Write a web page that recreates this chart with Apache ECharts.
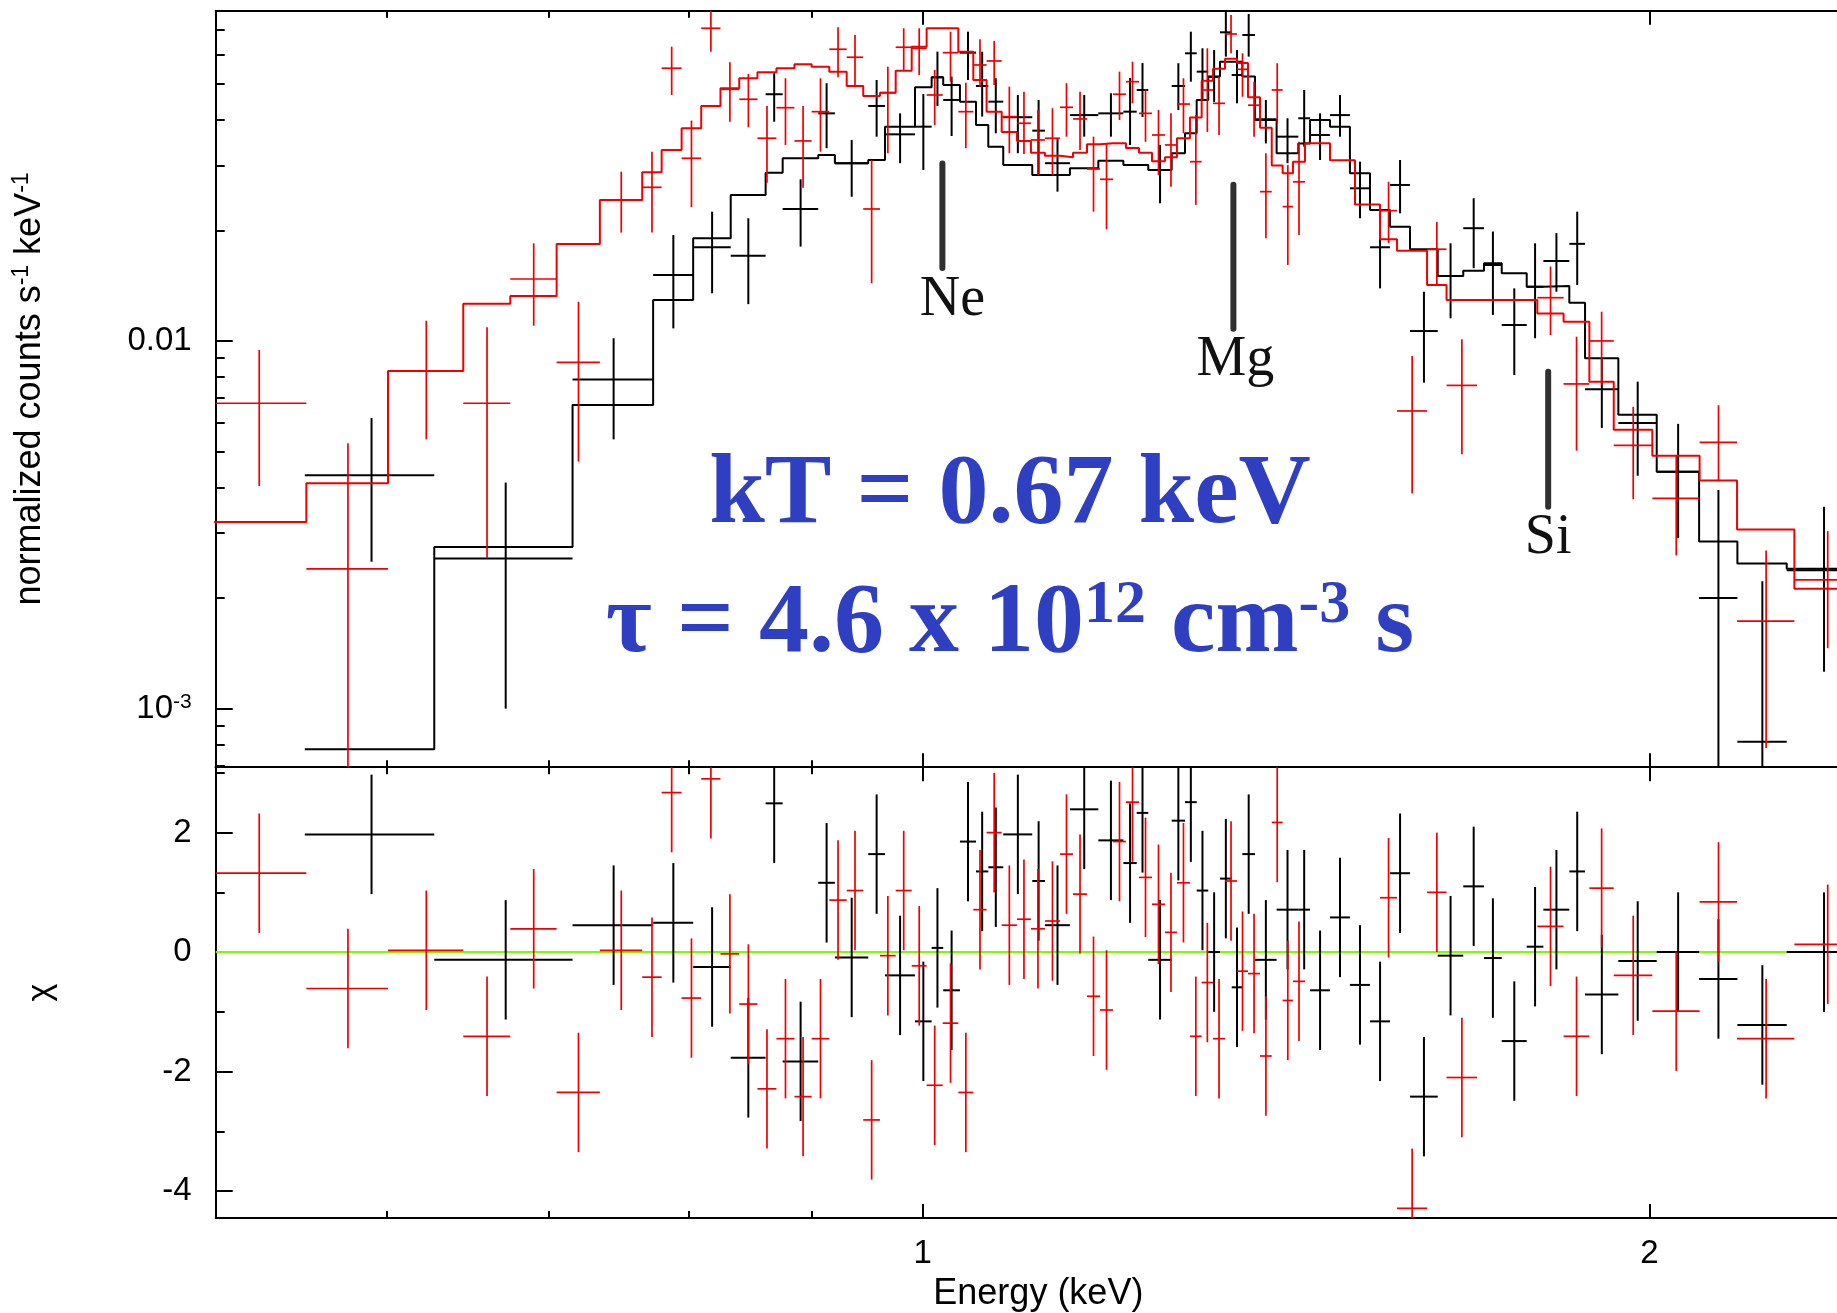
<!DOCTYPE html>
<html>
<head>
<meta charset="utf-8">
<script src="https://cdn.jsdelivr.net/npm/echarts@6.0.0/dist/echarts.min.js"></script>
<style>
html, body { margin: 0; padding: 0; background: #ffffff; }
#chart { width: 1837px; height: 1313px; }
</style>
</head>
<body>
<div id="chart"></div>
<script>
// ================= DATA =================
// Red data group: bin edges (keV), flux, error-bar ends, folded model, residuals
const redEdges = [0.5067, 0.5555, 0.6005, 0.6452, 0.6748, 0.7053, 0.7350, 0.7653, 0.7796, 0.7946,
  0.8096, 0.8246, 0.8395, 0.8542, 0.8698, 0.8849, 0.8995, 0.9148, 0.9301, 0.9449,
  0.9601, 0.9746, 0.9896, 1.0038, 1.0193, 1.0346, 1.0495, 1.0629, 1.0783, 1.0941,
  1.1088, 1.1237, 1.1399, 1.1542, 1.1697, 1.1843, 1.1991, 1.2140, 1.2292, 1.2445,
  1.2600, 1.2745, 1.2904, 1.3049, 1.3191, 1.3343, 1.3496, 1.3639, 1.3796, 1.3951,
  1.4097, 1.4236, 1.4401, 1.4748, 1.5104, 1.5469, 1.5722, 1.6179, 1.6482, 1.6968,
  1.7973, 1.8429, 1.8888, 1.9332, 2.0057, 2.0982, 2.1745, 2.2967, 2.4452];
const redFlux = [0.00677, 0.00240, 0.00829, 0.00677, 0.01474, 0.00874, 0.02418, 0.02617, 0.05517, 0.03139,
  0.07086, 0.04836, 0.04543, 0.03559, 0.04309, 0.03499, 0.04203, 0.06214, 0.05910, 0.02285,
  0.04734, 0.06292, 0.06253, 0.04666, 0.06082, 0.04203, 0.05631, 0.05774, 0.04075, 0.03909,
  0.03521, 0.03559, 0.04320, 0.04016, 0.02936, 0.02752, 0.04688, 0.05071, 0.04159, 0.03632,
  0.03412, 0.04408, 0.03073, 0.04815, 0.04428, 0.06838, 0.05481, 0.04377, 0.02547, 0.04815,
  0.02319, 0.02709, null, null, null, 0.02261, 0.00645, 0.01776, 0.00757, null,
  0.01311, 0.00764, 0.01000, 0.00520, 0.00373, 0.00530, 0.00173, 0.00224];
const redFluxUp = [0.00945, 0.00527, 0.01135, 0.01090, 0.01843, 0.01278, 0.02887, 0.03272, 0.06314, 0.03974,
  0.08200, 0.05728, 0.05321, 0.04355, 0.05181, 0.04355, 0.05181, 0.07131, 0.06794, 0.03106,
  0.05571, 0.07086, 0.07086, 0.05458, 0.06937, 0.05040, 0.06615, 0.06545, 0.04916, 0.04765,
  0.04248, 0.04294, 0.05023, 0.04765, 0.03594, 0.03445, 0.05400, 0.05748, 0.04840, 0.04248,
  0.04159, 0.05181, 0.04118, 0.06251, 0.05235, 0.07702, 0.06058, 0.05071, 0.03240, 0.05692,
  0.03009, 0.03484, null, null, null, 0.02710, 0.00910, 0.02108, 0.01011, null,
  0.01593, 0.01027, 0.01201, 0.00662, 0.00487, 0.00669, 0.00269, 0.00304];
const redFluxDown = [0.00403, 0.00040, 0.00540, 0.00257, 0.01100, 0.00470, 0.01971, 0.01971, 0.04666, 0.02310,
  0.06120, 0.03947, 0.03811, 0.02695, 0.03412, 0.02611, 0.03272, 0.05214, 0.04937, 0.01435,
  0.03240, 0.05458, 0.05289, 0.03867, 0.05071, 0.03343, 0.04916, 0.04968, 0.03240, 0.03225,
  0.02828, 0.02828, 0.03594, 0.03307, 0.02247, 0.02012, 0.03990, 0.04428, 0.03480, 0.02828,
  0.02627, 0.03671, 0.02344, 0.03702, 0.03632, 0.06058, 0.04614, 0.03594, 0.01902, 0.03910,
  0.01609, 0.01941, null, null, null, 0.01845, 0.00385, 0.01420, 0.00492, null,
  0.01038, 0.00503, 0.00759, 0.00371, 0.00261, 0.00415, 0.000782, 0.00146];
const redModel = [0.00322, 0.00410, 0.00829, 0.01262, 0.01325, 0.01836, 0.02418, 0.02875, 0.03307, 0.03788,
  0.04356, 0.04866, 0.05181, 0.05380, 0.05517, 0.05655, 0.05571, 0.05400, 0.04937, 0.04637,
  0.04734, 0.05434, 0.06314, 0.07086, 0.07086, 0.06120, 0.05126, 0.04203, 0.03702, 0.03500,
  0.03250, 0.03190, 0.03160, 0.03250, 0.03430, 0.03450, 0.03450, 0.03350, 0.03250, 0.03080,
  0.03160, 0.03560, 0.04050, 0.05100, 0.05500, 0.05850, 0.05700, 0.04600, 0.03800, 0.03000,
  0.02860, 0.03070, 0.03450, 0.03100, 0.02350, 0.01890, 0.01760, 0.01420, 0.01292, 0.01292,
  0.01188, 0.01128, 0.00775, 0.00573, 0.00487, 0.00417, 0.00307, 0.00212];
const redChi = [1.32, -0.61, 0.03, -1.41, 0.39, -2.35, 0.03, -0.42, 2.67, -0.77,
  2.90, -0.03, -0.87, -2.29, -1.45, -2.42, -1.45, 0.87, 1.03, -2.81,
  -0.06, 1.03, -0.23, -2.23, -1.19, -2.35, 0.71, 2.00, 0.45, 0.55,
  0.39, 0.52, 1.64, 0.97, -0.74, -0.97, 1.85, 2.51, 1.25, 0.80,
  0.33, 1.16, -1.41, -0.51, -1.45, 1.19, -0.32, -0.36, -1.74, 2.17,
  -0.81, -0.49, null, null, null, 0.91, -4.29, 1.00, -2.10, null,
  0.43, -1.41, 1.07, -0.39, -0.99, 0.84, -1.45, 0.13];

// Black data group
const blackEdges = [0.5547, 0.6276, 0.7161, 0.7733, 0.8034, 0.8327, 0.8609, 0.8750, 0.9052, 0.9197,
  0.9494, 0.9647, 0.9927, 1.0086, 1.0198, 1.0362, 1.0522, 1.0646, 1.0799, 1.1102,
  1.1237, 1.1508, 1.1824, 1.2110, 1.2265, 1.2401, 1.2681, 1.2843, 1.2987, 1.3131,
  1.3279, 1.3428, 1.3565, 1.3730, 1.4016, 1.4309, 1.4470, 1.4748, 1.5031, 1.5322,
  1.5617, 1.5918, 1.6344, 1.6747, 1.7082, 1.7373, 1.7792, 1.8077, 1.8530, 1.8810,
  1.9417, 2.0141, 2.0972, 2.1752, 2.2800, 2.4452];
const blackFlux = [0.00431, 0.00256, 0.00786, 0.01512, 0.01798, 0.01706, 0.04688, 0.02285, 0.04159, 0.03044,
  0.04356, 0.03647, 0.03826, 0.05214, 0.04523, 0.06082, 0.04937, 0.04475, 0.04060, 0.03732,
  0.03044, 0.04114, 0.04159, 0.04203, 0.04815, 0.02917, 0.04937, 0.06058, 0.05400, 0.05224,
  0.06909, 0.05289, 0.06794, 0.04008, 0.03594, 0.04033, 0.03632, 0.04114, 0.02601, 0.01798,
  0.02656, 0.01064, 0.01502, 0.02026, 0.01609, 0.01105, 0.01404, 0.01650, 0.01837, 0.00739,
  0.00598, 0.00441, 0.00200, 0.000813, 0.00238];
const blackFluxUp = [0.00617, 0.00412, 0.01017, 0.01941, 0.02247, 0.02156, 0.05347, 0.02752, 0.05023, 0.03521,
  0.05126, 0.04159, 0.04695, 0.06120, 0.05235, 0.06937, 0.06120, 0.05181, 0.04666, 0.04523,
  0.03559, 0.04666, 0.04717, 0.05191, 0.05704, 0.03412, 0.05692, 0.06937, 0.06251, 0.06186,
  0.08200, 0.06186, 0.07750, 0.04523, 0.04033, 0.04815, 0.04159, 0.04666, 0.03073, 0.02200,
  0.03106, 0.01361, 0.01843, 0.02444, 0.01984, 0.01390, 0.01843, 0.01964, 0.02247, 0.00899,
  0.00775, 0.00595, 0.00393, 0.00222, 0.00354];
const blackFluxDown = [0.00251, 0.00100, 0.00540, 0.01082, 0.01348, 0.01259, 0.03947, 0.01805, 0.03343, 0.02467,
  0.03594, 0.03044, 0.02917, 0.04356, 0.03609, 0.05126, 0.04075, 0.03671, 0.03240, 0.02828,
  0.02547, 0.03594, 0.03594, 0.03412, 0.04067, 0.02368, 0.04248, 0.05071, 0.04523, 0.04467,
  0.05932, 0.04428, 0.05932, 0.03445, 0.03044, 0.03376, 0.03106, 0.03594, 0.02156, 0.01390,
  0.02224, 0.00770, 0.01152, 0.01577, 0.01177, 0.00808, 0.01017, 0.01361, 0.01420, 0.00580,
  0.00430, 0.00291, 0.00040, 0.00040, 0.00126];
const blackModel = [0.000775, 0.00275, 0.00670, 0.01292, 0.01902, 0.02495, 0.02869, 0.03139, 0.03205, 0.03044,
  0.03106, 0.03826, 0.04897, 0.05214, 0.04968, 0.04475, 0.03867, 0.03376, 0.03011, 0.02828,
  0.02828, 0.02951, 0.03092, 0.03011, 0.03011, 0.02917, 0.03240, 0.03671, 0.04523, 0.05235,
  0.05748, 0.05748, 0.05235, 0.03990, 0.03240, 0.03445, 0.03990, 0.03826, 0.02858, 0.02271,
  0.02045, 0.01776, 0.01502, 0.01553, 0.01626, 0.01529, 0.01404, 0.01410, 0.01270, 0.00897,
  0.00630, 0.00441, 0.00285, 0.00248, 0.00240];
const blackChi = [1.97, -0.13, 0.45, 0.49, -0.25, -1.77, 2.49, -1.83, 1.16, -0.09,
  1.64, -0.39, -1.16, 0.07, -0.64, 1.85, 1.35, 1.42, 1.97, 1.19,
  0.45, 2.39, 1.87, 1.49, 2.33, -0.13, 2.20, 2.51, 1.03, 0.00,
  1.23, -0.59, 1.64, -0.13, 0.71, 0.71, -0.64, 0.58, -0.55, -1.16,
  1.32, -2.42, -0.06, 1.10, -0.10, -1.49, 0.09, 0.71, 1.35, -0.71,
  -0.15, 0.00, -0.45, -1.22, 0.00];
const CHI_ERR = 1;

// Axis ticks and labels
const xMajorTicks = [1, 2];
const xMinorTicks = [0.6, 0.7, 0.8, 0.9];
const xTickLabels = ['1', '2'];
const fluxMajorTicks = [0.001, 0.01];
const fluxMinorTicks = [0.0007, 0.0008, 0.0009, 0.002, 0.003, 0.004, 0.005, 0.006, 0.007, 0.008, 0.009,
  0.02, 0.03, 0.04, 0.05, 0.06, 0.07];
const fluxTickLabels = ['{n|10}{s|-3}', '0.01'];
const chiMajorTicks = [-4, -2, 0, 2];
const chiMinorTicks = [-3, -1, 1, 3];
const chiTickLabels = ['-4', '-2', '0', '2'];

// Emission-line markers
const lineNames = ['Ne', 'Mg', 'Si'];
const lineEnergy = [1.019, 1.345, 1.816];
const lineTopFlux = [0.0304, 0.0266, 0.00825];
const lineBottomFlux = [0.0158, 0.0108, 0.00354];

// Texts
const xName = 'Energy (keV)';
const fluxName = 'normalized counts s{s|-1} keV{s|-1}';
const chiName = 'χ';
const textKT = 'kT = 0.67 keV';
const textTau = '{m|τ = 4.6 x 10}{s|12}{m| cm}{s|-3}{m| s}';

// Axis ranges (the plot is cut at the right edge of the picture)
const X_MIN = 0.5095, X_MAX = 2.392;
const FLUX_MIN = 0.000693, FLUX_MAX = 0.0791;
const CHI_MIN = -4.452, CHI_MAX = 3.095;

// ================= LAYOUT / STYLE =================
const GRID_LEFT = 215.7;
const TOP_Y = 10.7, SPLIT_Y = 767.2, BOTTOM_Y = 1222.7;
const LABEL_DX = [10, 2, 0];   // horizontal nudge of the element labels (px)
const SANS = '"Liberation Sans", Arial, Helvetica, sans-serif';
const SERIF = '"Liberation Serif", "Times New Roman", serif';
const RED = '#f00000', BLACK = '#000000', BLUE = '#2f3fc2';

function fmt(values, labels) {
  return function (v) {
    for (let i = 0; i < values.length; i++) {
      if (Math.abs(v - values[i]) <= Math.abs(values[i]) * 1e-6 + 1e-9) return labels[i];
    }
    return '';
  };
}

function xAxis(gridIndex, position, ticks, len, withLine, withLabels) {
  const ax = {
    type: 'log', logBase: 10, gridIndex: gridIndex, position: position,
    min: X_MIN, max: X_MAX,
    axisLine: { show: withLine, onZero: false, lineStyle: { color: BLACK, width: 2 } },
    axisTick: { show: true, inside: true, length: len, customValues: ticks,
      lineStyle: { color: BLACK, width: 2 } },
    axisLabel: { show: false },
    splitLine: { show: false },
    minorTick: { show: false }
  };
  if (withLabels) {
    ax.axisLabel = { show: true, customValues: xMajorTicks, formatter: fmt(xMajorTicks, xTickLabels),
      color: BLACK, fontFamily: SANS, fontSize: 33, margin: 19 };
    ax.name = xName;
    ax.nameLocation = 'middle';
    ax.nameGap = 58;
    ax.nameTextStyle = { color: BLACK, fontFamily: SANS, fontSize: 36, padding: [0, 0, 0, 24] };
  }
  return ax;
}

function yAxisDef(type, gridIndex, min, max, ticks, len, withLine) {
  return {
    type: type, logBase: 10, gridIndex: gridIndex, position: 'left', min: min, max: max,
    axisLine: { show: withLine, onZero: false, lineStyle: { color: BLACK, width: 2 } },
    axisTick: { show: true, inside: true, length: len, customValues: ticks, lineStyle: { color: BLACK, width: 2 } },
    axisLabel: { show: false }, splitLine: { show: false }, minorTick: { show: false }
  };
}

const yFluxMajor = yAxisDef('log', 0, FLUX_MIN, FLUX_MAX, fluxMajorTicks, 17, true);
yFluxMajor.axisLabel = { show: true, customValues: fluxMajorTicks, formatter: fmt(fluxMajorTicks, fluxTickLabels),
  color: BLACK, fontFamily: SANS, fontSize: 33, margin: 24,
  rich: { n: { fontFamily: SANS, fontSize: 33, color: BLACK },
          s: { fontFamily: SANS, fontSize: 21, color: BLACK, verticalAlign: 'top', lineHeight: 26 } } };
yFluxMajor.name = fluxName;
yFluxMajor.nameLocation = 'middle';
yFluxMajor.nameGap = 166;
yFluxMajor.nameTextStyle = { color: BLACK, fontFamily: SANS, fontSize: 36, lineHeight: 40,
  rich: { s: { fontFamily: SANS, fontSize: 23, color: BLACK, verticalAlign: 'top', lineHeight: 28 } } };

const yChiMajor = yAxisDef('value', 1, CHI_MIN, CHI_MAX, chiMajorTicks, 17, true);
yChiMajor.axisLabel = { show: true, customValues: chiMajorTicks, formatter: fmt(chiMajorTicks, chiTickLabels),
  color: BLACK, fontFamily: SANS, fontSize: 33, margin: 24 };
yChiMajor.name = chiName;
yChiMajor.nameLocation = 'middle';
yChiMajor.nameGap = 158;
yChiMajor.nameTextStyle = { color: BLACK, fontFamily: SANS, fontSize: 34 };

const option = {
  animation: false,
  backgroundColor: '#ffffff',
  grid: [
    { left: GRID_LEFT, top: TOP_Y, right: 0, height: SPLIT_Y - TOP_Y, show: false },
    { left: GRID_LEFT, top: SPLIT_Y, right: 0, height: BOTTOM_Y - SPLIT_Y, show: false }
  ],
  xAxis: [
    xAxis(0, 'bottom', xMajorTicks, 14, true, false),
    xAxis(0, 'bottom', xMinorTicks, 7, false, false),
    xAxis(0, 'top', xMajorTicks, 14, true, false),
    xAxis(0, 'top', xMinorTicks, 7, false, false),
    xAxis(1, 'bottom', xMajorTicks, 14, true, true),
    xAxis(1, 'bottom', xMinorTicks, 7, false, false),
    xAxis(1, 'top', xMajorTicks, 14, true, false),
    xAxis(1, 'top', xMinorTicks, 7, false, false)
  ],
  yAxis: [
    yFluxMajor,
    yAxisDef('log', 0, FLUX_MIN, FLUX_MAX, fluxMinorTicks, 9, false),
    yChiMajor,
    yAxisDef('value', 1, CHI_MIN, CHI_MAX, chiMinorTicks, 9, false)
  ],
  graphic: [
    { type: 'text', x: 1010, y: 496, silent: true,
      style: { text: textKT, fill: BLUE, font: 'bold 100px ' + SERIF, align: 'center', verticalAlign: 'middle' } },
    { type: 'text', x: 1010, y: 625, silent: true,
      style: { text: textTau, fill: BLUE, align: 'center', verticalAlign: 'middle',
        rich: {
          m: { fill: BLUE, fontFamily: SERIF, fontWeight: 'bold', fontSize: 100, lineHeight: 100 },
          s: { fill: BLUE, fontFamily: SERIF, fontWeight: 'bold', fontSize: 62, lineHeight: 78, verticalAlign: 'top' }
        } } }
  ],
  series: []
};

// ---- helpers building marks through the axes ----
function binRows(edges, v, up, dn) {
  return v.map(function (val, i) {
    return [edges[i], edges[i + 1], val, up ? up[i] : null, dn ? dn[i] : null];
  });
}
function stepRows(edges, model) {
  const rows = model.map(function (m, i) { return [edges[i], m]; });
  rows.push([edges[edges.length - 1], model[model.length - 1]]);
  return rows;
}
function crossRenderer(color, width, isChi) {
  return function (params, api) {
    const lo = api.value(0), hi = api.value(1), v = api.value(2);
    if (!isFinite(v)) return null;
    const up = isChi ? v + CHI_ERR : api.value(3);
    const dn = isChi ? v - CHI_ERR : api.value(4);
    const cs = params.coordSys;
    const L = cs.x, R = cs.x + cs.width, T = cs.y, B = cs.y + cs.height;
    const clamp = function (a, m, n) { return Math.min(n, Math.max(m, a)); };
    const mid = (lo + hi) / 2;
    const a = api.coord([lo, v]), b = api.coord([hi, v]);
    const c = api.coord([mid, up]), d = api.coord([mid, dn]);
    const st = { stroke: color, lineWidth: width, fill: null };
    const kids = [];
    if (a[1] >= T && a[1] <= B) {
      kids.push({ type: 'line', shape: { x1: clamp(a[0], L, R + 50), y1: a[1], x2: clamp(b[0], L, R + 50), y2: b[1] }, style: st });
    }
    const y1 = clamp(c[1], T, B), y2 = clamp(isFinite(d[1]) ? d[1] : B, T, B);
    if (y2 > y1 && c[0] >= L && c[0] <= R + 50) {
      kids.push({ type: 'line', shape: { x1: c[0], y1: y1, x2: c[0], y2: y2 }, style: st });
    }
    return { type: 'group', children: kids };
  };
}

// Top panel: black data + model
option.series.push({
  type: 'custom', name: 'black data', xAxisIndex: 0, yAxisIndex: 0, silent: true, z: 3,
  renderItem: crossRenderer(BLACK, 2, false),
  encode: { x: [0, 1], y: [2] },
  data: binRows(blackEdges, blackFlux, blackFluxUp, blackFluxDown)
});
option.series.push({
  type: 'line', name: 'black model', xAxisIndex: 0, yAxisIndex: 0, silent: true, z: 3,
  step: 'end', symbol: 'none', lineStyle: { color: BLACK, width: 2 },
  data: stepRows(blackEdges, blackModel)
});
// Top panel: red data + model
option.series.push({
  type: 'custom', name: 'red data', xAxisIndex: 0, yAxisIndex: 0, silent: true, z: 4,
  renderItem: crossRenderer(RED, 1.7, false),
  encode: { x: [0, 1], y: [2] },
  data: binRows(redEdges, redFlux, redFluxUp, redFluxDown)
});
option.series.push({
  type: 'line', name: 'red model', xAxisIndex: 0, yAxisIndex: 0, silent: true, z: 4,
  step: 'end', symbol: 'none', lineStyle: { color: RED, width: 2 },
  data: stepRows(redEdges, redModel)
});
// Line markers
option.series.push({
  type: 'custom', name: 'lines', xAxisIndex: 0, yAxisIndex: 0, silent: true, z: 6,
  encode: { x: [0], y: [1, 2] },
  data: lineNames.map(function (n, i) { return [lineEnergy[i], lineTopFlux[i], lineBottomFlux[i]]; }),
  renderItem: function (params, api) {
    const p1 = api.coord([api.value(0), api.value(1)]);
    const p2 = api.coord([api.value(0), api.value(2)]);
    return { type: 'group', children: [
      { type: 'line', shape: { x1: p1[0], y1: p1[1], x2: p2[0], y2: p2[1] },
        style: { stroke: '#303030', lineWidth: 6, lineCap: 'round' } },
      { type: 'text', x: p2[0] + LABEL_DX[params.dataIndex], y: p2[1] + 4,
        style: { text: lineNames[params.dataIndex], fill: '#111111', font: '56px ' + SERIF,
          align: 'center', verticalAlign: 'top' } }
    ] };
  }
});
// Bottom panel residuals
option.series.push({
  type: 'custom', name: 'black chi', xAxisIndex: 4, yAxisIndex: 2, silent: true, z: 3,
  renderItem: crossRenderer(BLACK, 2, true),
  encode: { x: [0, 1], y: [2] },
  data: binRows(blackEdges, blackChi, null, null),
  markLine: { silent: true, symbol: 'none', label: { show: false }, z: 2,
    lineStyle: { color: '#7cfc00', width: 2, type: 'solid' }, data: [{ yAxis: 0 }] }
});
option.series.push({
  type: 'custom', name: 'red chi', xAxisIndex: 4, yAxisIndex: 2, silent: true, z: 4,
  renderItem: crossRenderer(RED, 1.7, true),
  encode: { x: [0, 1], y: [2] },
  data: binRows(redEdges, redChi, null, null)
});

const chart = echarts.init(document.getElementById('chart'), null, { renderer: 'canvas' });
chart.setOption(option);
</script>
</body>
</html>
